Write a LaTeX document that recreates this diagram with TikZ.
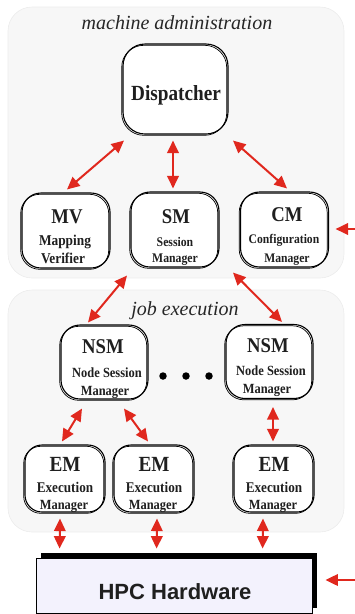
\documentclass[tikz,border=0pt]{standalone}
\usepackage{fontspec}
\setmainfont{Liberation Serif}
\newfontfamily\hwfont{Liberation Sans}
\newfontfamily\narrowserif{Liberation Serif}[FakeStretch=0.89]
\usetikzlibrary{arrows.meta,calc}

\definecolor{panelfill}{HTML}{F7F7F7}
\definecolor{paneledge}{HTML}{ECECEC}
\definecolor{linkred}{HTML}{E0281E}
\definecolor{hwfill}{HTML}{F3F2FD}

\tikzset{
  panel/.style={fill=panelfill, draw=paneledge, line width=0.6pt, rounded corners=24pt},
  unit/.style={draw=black, fill=white, line width=1.1pt, rounded corners=#1, inner sep=0pt,
    postaction={draw=black, line width=0.7pt, transform canvas={xshift=-1.3pt, yshift=-1.3pt}}},
  unit/.default=19pt,
  paneltitle/.style={font=\fontsize{20}{24}\selectfont\itshape, anchor=base, inner sep=0pt, text=black!85},
  acro/.style={font=\narrowserif\fontsize{21}{24}\selectfont\bfseries, anchor=base, inner sep=0pt, text=black!88},
  full/.style={font=\narrowserif\fontsize{14}{16}\selectfont\bfseries, anchor=base, inner sep=0pt, text=black!88},
  link/.style={draw=linkred, line width=2pt, >={Triangle[length=12.5pt,width=11.5pt]}, <->},
  inlink/.style={draw=linkred, line width=2pt, >={Triangle[length=12.5pt,width=11.5pt]}, ->},
  dotnode/.style={circle, fill=black, inner sep=0pt, minimum size=7.5pt},
}

\begin{document}
\begin{tikzpicture}[x=1pt, y=-1pt]
  \useasboundingbox (0,0) rectangle (354,614);

  % the two grouping panels
  \draw[panel] (8,7) rectangle (344,278);
  \draw[panel] (8,290) rectangle (344,532);
  \node[paneltitle] (admintitle) at (177,29) {machine administration};
  \node[paneltitle] (jobtitle) at (185,315) {job execution};

  % machine administration
  \node[unit=22pt, minimum width=105pt, minimum height=90pt] (disp) at (175.5,89) {};
  \node[acro, font=\narrowserif\fontsize{21.6}{24}\selectfont\bfseries] (dispT) at (176,100) {Dispatcher};

  \node[unit, minimum width=88pt, minimum height=75pt] (mv) at (66,230.5) {};
  \node[unit, minimum width=88pt, minimum height=75pt] (sm) at (175,229.5) {};
  \node[unit, minimum width=88pt, minimum height=75pt] (cm) at (284.5,229.5) {};

  \node[acro] (mvA) at (67,223) {MV};
  \node[full, font=\narrowserif\fontsize{15}{17}\selectfont\bfseries] (mvB) at (65,245) {Mapping};
  \node[full, font=\narrowserif\fontsize{15}{17}\selectfont\bfseries] (mvC) at (63,263) {Verifier};

  \node[acro] (smA) at (176,223) {SM};
  \node[full, font=\narrowserif\fontsize{13.2}{15}\selectfont\bfseries] (smB) at (175,246) {Session};
  \node[full, font=\narrowserif\fontsize{13.2}{15}\selectfont\bfseries] (smC) at (175,262) {Manager};

  \node[acro] (cmA) at (287,221) {CM};
  \node[full, font=\narrowserif\fontsize{13.1}{15}\selectfont\bfseries] (cmB) at (284,243) {Configuration};
  \node[full, font=\narrowserif\fontsize{13.1}{15}\selectfont\bfseries] (cmC) at (287,262) {Manager};

  % job execution
  \node[unit, minimum width=87pt, minimum height=74pt] (nsmL) at (104.5,362) {};
  \node[unit, minimum width=87pt, minimum height=74pt] (nsmR) at (269.5,361.5) {};

  \node[acro] (nsmLA) at (103,353) {NSM};
  \node[full] (nsmLB) at (107,377) {Node Session};
  \node[full] (nsmLC) at (105,395) {Manager};

  \node[acro] (nsmRA) at (268,352) {NSM};
  \node[full] (nsmRB) at (271,375) {Node Session};
  \node[full] (nsmRC) at (267,393) {Manager};

  \node[dotnode] (dot1) at (163,376) {};
  \node[dotnode] (dot2) at (186,376) {};
  \node[dotnode] (dot3) at (209,376) {};

  \node[unit=17pt, minimum width=80pt, minimum height=67pt] (em1) at (65,478.5) {};
  \node[unit=17pt, minimum width=80pt, minimum height=67pt] (em2) at (154,478.5) {};
  \node[unit=17pt, minimum width=80pt, minimum height=67pt] (em3) at (274,478.5) {};

  \foreach \e/\x in {em1/65, em2/154, em3/274} {
    \node[acro, font=\narrowserif\fontsize{21.6}{24}\selectfont\bfseries] (\e A) at (\x,471) {EM};
    \node[full, font=\narrowserif\fontsize{14.8}{17}\selectfont\bfseries] (\e B) at (\x,492) {Execution};
    \node[full] (\e C) at (\x-1,509) {Manager};
  }

  % hardware block with its dark offset backing
  \fill[black] (41,553) rectangle (317,607.5);
  \node[draw=black, fill=hwfill, line width=0.8pt, inner sep=0pt,
        minimum width=276pt, minimum height=55pt] (hpc) at (174,585.5) {};
  \node[font=\hwfont\fontsize{22}{26}\selectfont\bfseries, anchor=base, inner sep=0pt, text=black!88]
        (hpcT) at (175,599) {HPC Hardware};

  % links in machine administration
  \draw[link] ($(disp.south)+(-51.5,6)$) -- ($(mv.north)+(1,-3)$);
  \draw[link] ($(disp.south)+(-2.5,6)$) -- ($(sm.north)+(-2,-3)$);
  \draw[link] ($(disp.south)+(57.5,6)$) -- ($(cm.north)+(2.5,-3)$);

  % session manager to node session managers
  \draw[link] ($(sm.south)+(-48,8)$) -- ($(nsmL.north)+(-16.5,-2)$);
  \draw[link] ($(sm.south)+(58,5)$) -- ($(nsmR.north)+(12.5,-2)$);

  % node session managers to execution managers
  \draw[link] ($(nsmL.south)+(-22.5,9)$) -- ($(em1.north)+(-3,-3)$);
  \draw[link] ($(nsmL.south)+(19.5,9)$) -- ($(em2.north)+(-6,-3)$);
  \draw[link] ($(nsmR.south)+(3.5,8)$) -- ($(em3.north)+(-1,-3)$);

  % execution managers to hardware
  \draw[link] ($(em1.south)+(-5,6)$) -- ($(hpc.north west)+(24,-9)$);
  \draw[link] ($(em2.south)+(3,6)$) -- ($(hpc.north west)+(121,-9)$);
  \draw[link] ($(em3.south)+(-11,6)$) -- ($(hpc.north west)+(227,-9)$);

  % incoming links from the right
  \coordinate (cmIn) at (356,229);
  \coordinate (hwIn) at (356,580);
  \draw[inlink] (cmIn) -- ($(cm.east)+(6.5,-0.5)$);
  \draw[inlink] (hwIn) -- ($(hpc.east)+(13,-5.5)$);
\end{tikzpicture}
\end{document}
